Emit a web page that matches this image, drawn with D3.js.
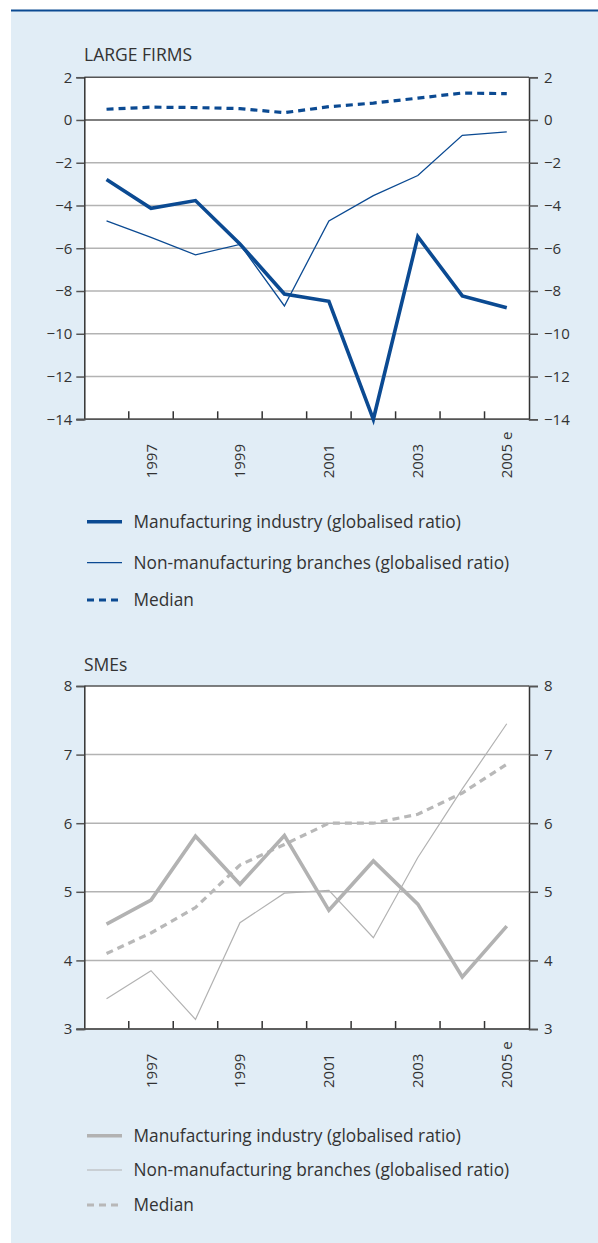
<!DOCTYPE html>
<html><head><meta charset="utf-8">
<script src="https://cdn.jsdelivr.net/npm/d3@7"></script>
<style>
html,body{margin:0;padding:0;background:#fff;}
svg{display:block;}
text{font-family:"Open Sans","Noto Sans",sans-serif;fill:#333;}
</style></head>
<body>
<svg id="chart" width="598" height="1243"></svg>
<script>
const years = [1996,1997,1998,1999,2000,2001,2002,2003,2004,2005];
const yearLabels = ["","1997","","1999","","2001","","2003","","2005 e"];
const seriesNames = ["Manufacturing industry (globalised ratio)","Non-manufacturing branches (globalised ratio)","Median"];

const largeManufacturing = [-2.78,-4.13,-3.77,-5.80,-8.14,-8.48,-14.0,-5.46,-8.23,-8.78];
const largeNonManufacturing = [-4.72,-5.49,-6.31,-5.82,-8.70,-4.72,-3.54,-2.60,-0.72,-0.56];
const largeMedian = [0.50,0.60,0.58,0.53,0.34,0.62,0.79,1.02,1.26,1.23];
const largeTicks = [2,0,-2,-4,-6,-8,-10,-12,-14];

const smeManufacturing = [4.53,4.88,5.81,5.11,5.82,4.73,5.45,4.82,3.76,4.50];
const smeNonManufacturing = [3.44,3.85,3.14,4.55,4.98,5.02,4.33,5.50,6.50,7.45];
const smeMedian = [4.10,4.40,4.77,5.39,5.69,6.00,6.00,6.13,6.44,6.86];
const smeTicks = [8,7,6,5,4,3];

const svg = d3.select("#chart");
svg.append("rect").attr("x",11).attr("y",10).attr("width",587).attr("height",1233).attr("fill","#e1edf6");
svg.append("line").attr("x1",11).attr("x2",598).attr("y1",10.5).attr("y2",10.5).attr("stroke","#0b4a92").attr("stroke-width",2);

const L = 84.3, R = 529;
const fmt = d3.format("d");

function panel(opt){
  const g = svg.append("g");
  const x = d3.scaleBand().domain(years).range([L,R]);
  const cx = d => x(d) + x.bandwidth()/2;
  const y = d3.scaleLinear().domain(opt.domain).range([opt.bottom, opt.top]);

  g.append("text").attr("x",84).attr("y",opt.titleY).attr("font-size",17.5).text(opt.title);

  g.append("rect").attr("x",L).attr("y",opt.top).attr("width",R-L).attr("height",opt.bottom-opt.top).attr("fill","#fff");

  g.selectAll("line.grid").data(opt.ticks).enter().append("line")
    .attr("x1",L).attr("x2",R).attr("y1",d=>y(d)).attr("y2",d=>y(d))
    .attr("stroke",d=> (d===opt.domain[1]||d===opt.domain[0]||d===0)?"#555":"#b3b3b3")
    .attr("stroke-width",1.5);

  const ax = g.append("g").attr("transform",`translate(${L},0)`)
    .call(d3.axisLeft(y).tickValues(opt.ticks).tickFormat(fmt).tickSize(8).tickPadding(4));
  const axr = g.append("g").attr("transform",`translate(${R},0)`)
    .call(d3.axisRight(y).tickValues(opt.ticks).tickFormat(fmt).tickSize(9).tickPadding(6));
  [ax,axr].forEach(a=>{
    a.select(".domain").attr("stroke","#333").attr("stroke-width",1.5);
    a.selectAll(".tick line").attr("stroke","#555").attr("stroke-width",1.5);
    a.selectAll(".tick text").attr("font-size",15).attr("fill","#333").attr("font-family","'Open Sans','Noto Sans',sans-serif");
  });

  g.selectAll("line.xt").data(years.slice(1)).enter().append("line")
    .attr("x1",d=>x(d)).attr("x2",d=>x(d)).attr("y1",opt.bottom).attr("y2",opt.bottom-8)
    .attr("stroke","#333").attr("stroke-width",1.5);
  g.append("line").attr("x1",L-8).attr("x2",R).attr("y1",opt.bottom).attr("y2",opt.bottom).attr("stroke","#555").attr("stroke-width",1.5);

  g.selectAll("text.xl").data(years).enter().append("text")
    .attr("transform",(d,i)=>`translate(${cx(d)+5.5},${opt.bottom+59}) rotate(-90)`)
    .attr("font-size",15).attr("text-anchor","start").text((d,i)=>yearLabels[i]);

  const line = d3.line().x((d,i)=>cx(years[i])).y(d=>y(d));
  const s = opt.styles;
  g.append("path").datum(opt.median).attr("d",line).attr("fill","none").attr("stroke",s[2].c).attr("stroke-width",s[2].w).attr("stroke-dasharray","7,5");
  g.append("path").datum(opt.non).attr("d",line).attr("fill","none").attr("stroke",s[1].c).attr("stroke-width",s[1].w);
  g.append("path").datum(opt.man).attr("d",line).attr("fill","none").attr("stroke",s[0].c).attr("stroke-width",s[0].w).attr("stroke-linejoin","miter");

  opt.legendY.forEach((ly,i)=>{
    const l = g.append("line").attr("x1",87).attr("x2",122).attr("y1",ly).attr("y2",ly)
      .attr("stroke",s[i].c).attr("stroke-width",s[i].w);
    if(i===2) l.attr("stroke-dasharray","7,5");
    g.append("text").attr("x",133.5).attr("y",ly).attr("dy","0.35em").attr("font-size",17.3).text(seriesNames[i]);
  });
}

panel({
  title:"LARGE FIRMS", titleY:61, top:77.2, bottom:419.3, domain:[-14,2], ticks:largeTicks,
  man:largeManufacturing, non:largeNonManufacturing, median:largeMedian,
  styles:[{c:"#0b4a92",w:3.6},{c:"#0b4a92",w:1.3},{c:"#0b4a92",w:3.2}],
  legendY:[521.7,562.7,600]
});
panel({
  title:"SMEs", titleY:671, top:686, bottom:1029, domain:[3,8], ticks:smeTicks,
  man:smeManufacturing, non:smeNonManufacturing, median:smeMedian,
  styles:[{c:"#b2b2b2",w:3.6},{c:"#b2b2b2",w:1.2},{c:"#b8b8b8",w:3.2}],
  legendY:[1135.7,1170,1205]
});
</script>
</body></html>
